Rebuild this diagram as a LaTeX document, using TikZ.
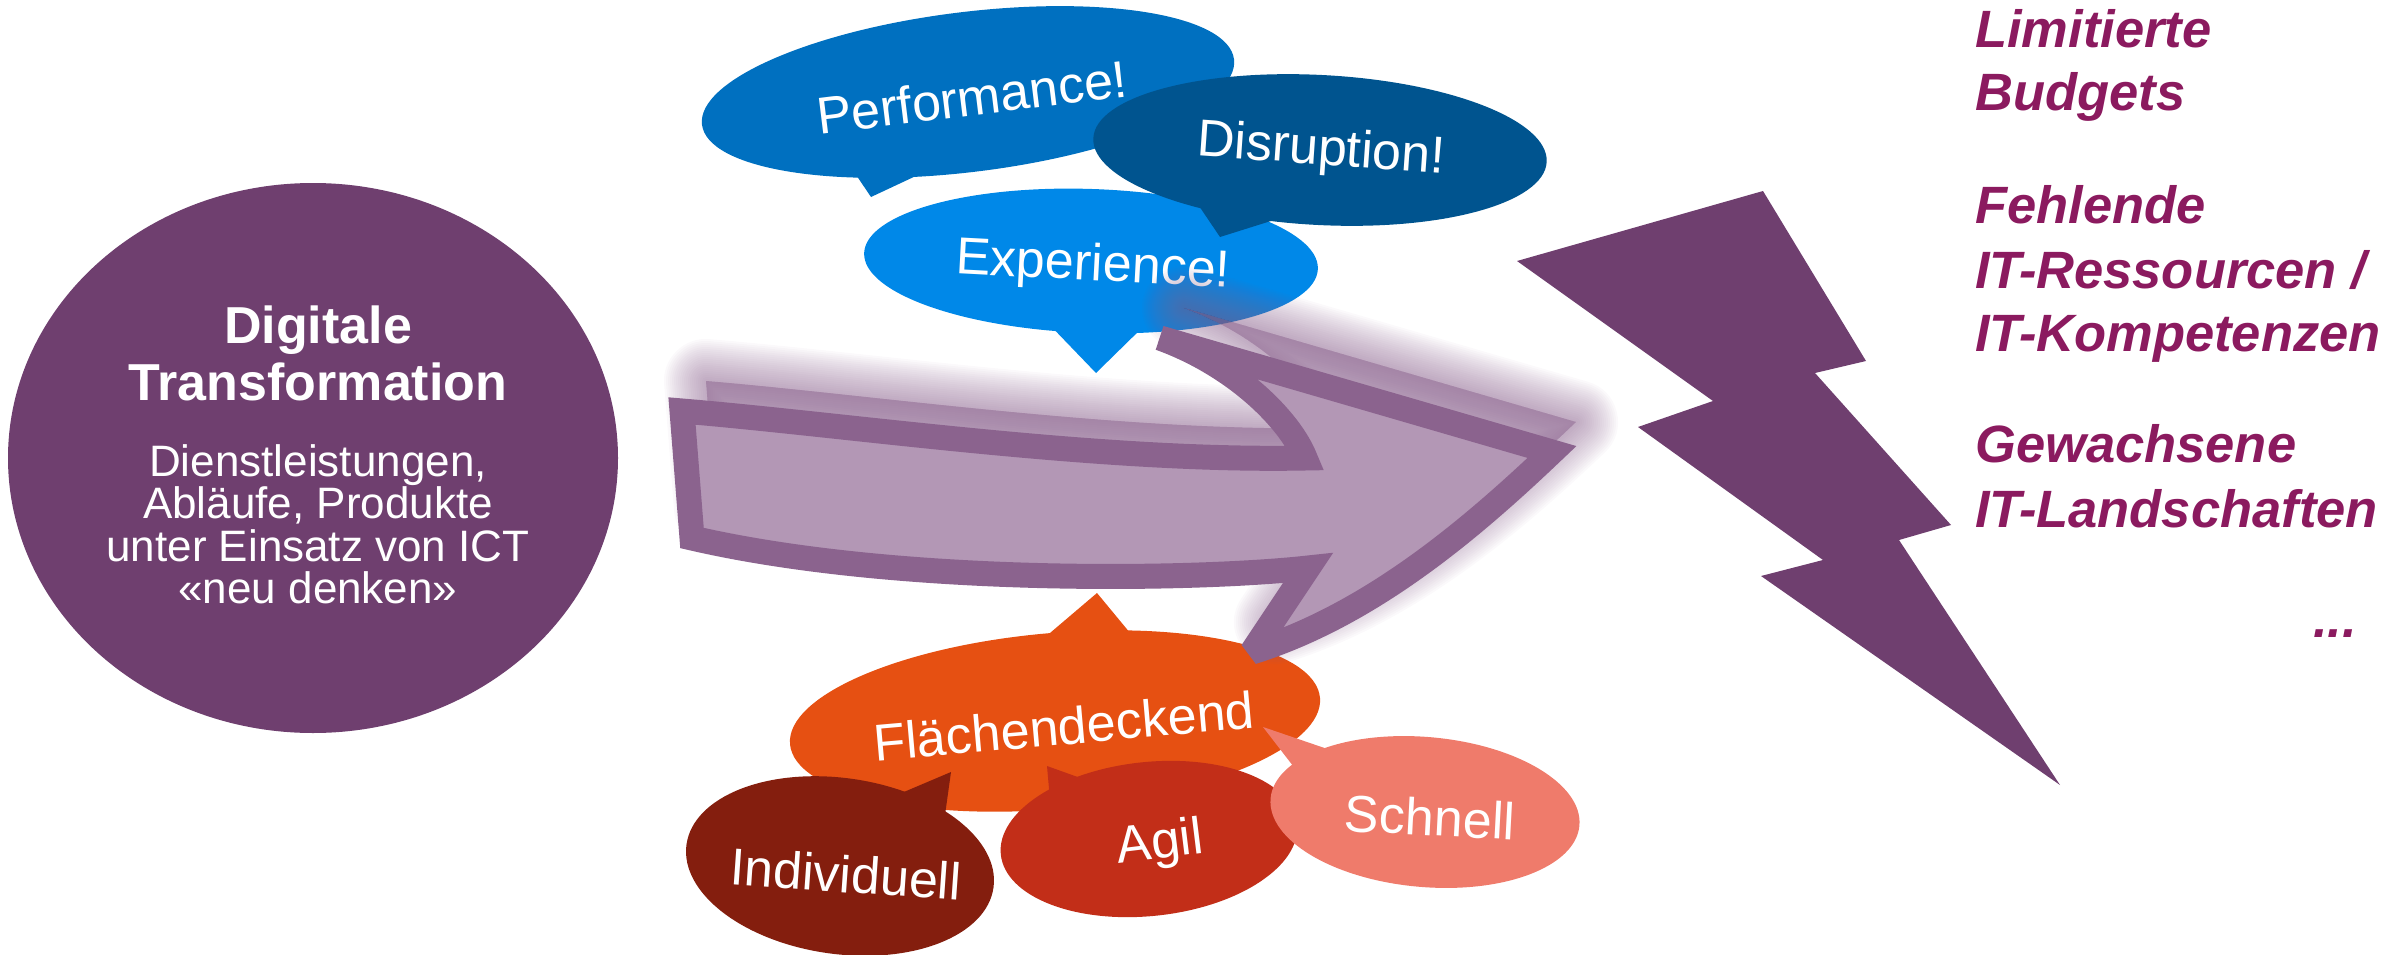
\documentclass[tikz,border=0pt]{standalone}
\usepackage{fontspec}
\setmainfont{Liberation Sans}
\usetikzlibrary{shapes.geometric}

\definecolor{dtpurple}{HTML}{6F3F6F}
\definecolor{hurdle}{HTML}{8B1A5F}
\definecolor{perfblue}{HTML}{0070C0}
\definecolor{disrblue}{HTML}{00548F}
\definecolor{expeblue}{HTML}{0088E8}
\definecolor{flaeorange}{HTML}{E65012}
\definecolor{indibrown}{HTML}{841E0E}
\definecolor{agilred}{HTML}{C22E18}
\definecolor{schnsalmon}{HTML}{EF7B6B}
\definecolor{arrowedge}{HTML}{8B638E}
\definecolor{arrowfill}{HTML}{B397B5}

% outline of the big curved arrow
\newcommand{\arrowoutline}{(682,411) .. controls (850,425) and (1100,462) .. (1305,458)
  .. controls (1290,420) and (1235,365) .. (1160,338) -- (1552,452)
  .. controls (1470,530) and (1370,615) .. (1252,652) -- (1308,568)
  .. controls (1200,580) and (900,586) .. (692,538) -- cycle}

\begin{document}
\begin{tikzpicture}[x=1pt, y=-1pt,
    bubbletext/.style={inner sep=0pt, text=white, font=\fontsize{52}{56}\selectfont},
    titleline/.style={inner sep=0pt, text=white, anchor=base, font=\bfseries\fontsize{52}{57}\selectfont},
    subline/.style={inner sep=0pt, text=white, anchor=base, font=\fontsize{44}{42}\selectfont},
    hurdletext/.style={inner sep=0pt, text=hurdle, anchor=base west, font=\bfseries\itshape\fontsize{52.5}{64}\selectfont}]
	\useasboundingbox (0,0) rectangle (2407,955);

	% speech bubbles above
	\fill[perfblue, rotate around={7:(968,92)}] (968,92) ellipse (268 and 80);
	\fill[perfblue] (846,160) -- (871,197) -- (950,160) -- cycle;
	\node[bubbletext, rotate=7] (perf) at (972,97) {Performance!};

	\fill[expeblue, rotate around={-2:(1091,261)}] (1091,261) ellipse (227 and 72);
	\fill[expeblue] (1045,320) -- (1096,373) -- (1145,325) -- cycle;
	\node[bubbletext, rotate=-3] (expe) at (1093,267) {Experience!};

	\fill[disrblue, rotate around={-3:(1320,150)}] (1320,150) ellipse (227 and 75);
	\fill[disrblue] (1195,200) -- (1220,237) -- (1290,215) -- cycle;
	\node[bubbletext, rotate=-4] (disr) at (1321,151) {Disruption!};

	% speech bubbles below
	\fill[flaeorange, rotate around={5:(1055,721)}] (1055,721) ellipse (266 and 88);
	\fill[flaeorange] (1030,650) -- (1097,593) -- (1140,645) -- cycle;
	\node[bubbletext, rotate=5] (flae) at (1064,726) {Flächendeckend};

	\fill[indibrown, rotate around={-8:(840,866)}] (840,866) ellipse (155 and 88);
	\fill[indibrown] (885,800) -- (951,772) -- (945,815) -- cycle;
	\node[bubbletext, rotate=-4] (indi) at (846,874) {Individuell};

	\fill[agilred, rotate around={6:(1149,839)}] (1149,839) ellipse (149 and 77);
	\fill[agilred] (1050,800) -- (1047,766) -- (1100,785) -- cycle;
	\node[bubbletext, rotate=7] (agil) at (1160,845) {Agil};

	\fill[schnsalmon, rotate around={-5:(1425,812)}] (1425,812) ellipse (155 and 75);
	\fill[schnsalmon] (1300,775) -- (1263,727) -- (1345,755) -- cycle;
	\node[bubbletext, rotate=-3] (schn) at (1430,817) {Schnell};

	% glow and arrow
	\foreach \w in {4,8,...,84}
		\draw[arrowedge, fill=arrowedge, line width=\w, opacity=0.035, line join=round, shift={(24,-30)}] \arrowoutline;
	\draw[arrowedge, fill=arrowfill, line width=25, line join=miter, miter limit=3] \arrowoutline;

	% digital transformation
	\fill[dtpurple] (313,458) ellipse (305 and 275);
	\node[titleline] (dt1) at (318,343) {Digitale};
	\node[titleline] (dt2) at (318,400) {Transformation};
	\node[subline] (dt3) at (318,476) {Dienstleistungen,};
	\node[subline] (dt4) at (318,518) {Abläufe, Produkte};
	\node[subline] (dt5) at (318,561) {unter Einsatz von ICT};
	\node[subline] (dt6) at (318,603) {«neu denken»};

	% lightning
	\fill[dtpurple] (1517,261) -- (1763,191) -- (1866,361) -- (1815,373) -- (1951,525) -- (1899,540)
		-- (2060,785) -- (1761,576) -- (1823,560) -- (1638,427) -- (1713,401) -- cycle;

	% hurdles
	\node[hurdletext] (lim1) at (1975,48) {Limitierte};
	\node[hurdletext] (lim2) at (1975,111) {Budgets};
	\node[hurdletext] (feh1) at (1975,223) {Fehlende};
	\node[hurdletext] (feh2) at (1975,288) {IT-Ressourcen /};
	\node[hurdletext] (feh3) at (1975,351) {IT-Kompetenzen};
	\node[hurdletext] (gew1) at (1975,462) {Gewachsene};
	\node[hurdletext] (gew2) at (1975,527) {IT-Landschaften};
	\node[hurdletext] (dots) at (2313,637) {...};
\end{tikzpicture}
\end{document}
